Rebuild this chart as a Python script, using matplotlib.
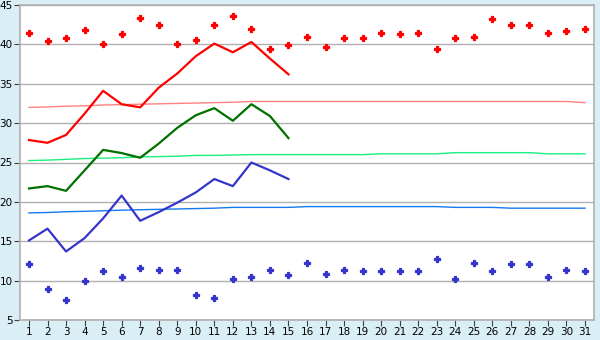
import matplotlib
matplotlib.use('Agg')
import matplotlib.pyplot as plt

# days of the month
days = list(range(1, 32))
days_half = list(range(1, 16))

# daily maximum markers (red) and minimum markers (blue)
high_pts = [41.4, 40.4, 40.8, 41.8, 40.1, 41.3, 43.4, 42.4, 40.1, 40.5,
            42.4, 43.6, 41.9, 39.4, 39.9, 41.0, 39.7, 40.8, 40.8, 41.5,
            41.3, 41.5, 39.4, 40.8, 41.0, 43.2, 42.5, 42.5, 41.5, 41.7, 41.9]
low_pts = [12.05, 9.0, 7.5, 10.0, 11.2, 10.5, 11.55, 11.4, 11.4, 8.2,
           7.85, 10.15, 10.5, 11.3, 10.7, 12.3, 10.8, 11.3, 11.2, 11.2,
           11.2, 11.2, 12.7, 10.15, 12.2, 11.2, 12.05, 12.05, 10.5, 11.4, 11.2]

# current month lines (first 15 days)
red_line = [27.85, 27.5, 28.5, 31.2, 34.1, 32.4, 32.0, 34.5, 36.3, 38.5,
            40.1, 39.0, 40.3, 38.2, 36.2]
green_line = [21.7, 22.0, 21.4, 24.0, 26.6, 26.2, 25.6, 27.4, 29.4, 31.0,
              31.9, 30.3, 32.4, 30.9, 28.1]
blue_line = [15.1, 16.6, 13.7, 15.4, 17.9, 20.8, 17.6, 18.7, 19.9, 21.2,
             22.9, 22.0, 25.0, 24.0, 22.9]

# long term averages
red_avg = [32.0, 32.05, 32.15, 32.2, 32.3, 32.35, 32.4, 32.45, 32.5, 32.55,
           32.6, 32.65, 32.75, 32.75, 32.75, 32.75, 32.75, 32.75, 32.75, 32.75,
           32.75, 32.75, 32.75, 32.75, 32.75, 32.75, 32.75, 32.75, 32.75, 32.75, 32.6]
green_avg = [25.25, 25.3, 25.4, 25.5, 25.55, 25.6, 25.7, 25.75, 25.8, 25.9,
             25.9, 25.95, 26.0, 26.0, 26.0, 26.0, 26.0, 26.0, 26.0, 26.1,
             26.1, 26.1, 26.1, 26.25, 26.25, 26.25, 26.25, 26.25, 26.1, 26.1, 26.1]
blue_avg = [18.6, 18.65, 18.75, 18.8, 18.87, 18.95, 19.0, 19.05, 19.1, 19.15,
            19.2, 19.3, 19.3, 19.3, 19.3, 19.4, 19.4, 19.4, 19.4, 19.4,
            19.4, 19.4, 19.4, 19.3, 19.3, 19.3, 19.2, 19.2, 19.2, 19.2, 19.2]

fig = plt.figure(figsize=(6, 3.4), dpi=100, facecolor='#daeef5')
ax = fig.add_axes([19.7 / 600, 1 - 320 / 340, (594.3 - 19.7) / 600, 315 / 340])
ax.set_facecolor('white')

# average lines
ax.plot(days, red_avg, color='#ff8080', lw=1)
ax.plot(days, green_avg, color='#19f07f', lw=1)
ax.plot(days, blue_avg, color='#1478f0', lw=1)

# current lines
ax.plot(days_half, red_line, color='#ff0000', lw=1.6)
ax.plot(days_half, green_line, color='#007000', lw=1.6)
ax.plot(days_half, blue_line, color='#3535cc', lw=1.6)

# markers
ax.plot(days, high_pts, ls='none', marker='P', ms=5, color='#ff0000', mew=0.9)
ax.plot(days, low_pts, ls='none', marker='P', ms=5, color='#3535cc', mew=0.9)

ax.set_xlim(0.5, 31.5)
ax.set_ylim(5, 45)
ax.set_xticks(days)
ax.set_yticks(range(5, 50, 5))
ax.yaxis.grid(True, color='#b0b0b0', lw=1)
ax.set_axisbelow(True)
for s in ax.spines.values():
    s.set_color('#b0b0b0')
    s.set_linewidth(1.2)
ax.tick_params(colors='#404040', labelcolor='#000000', labelsize=7.5, length=4, pad=1)

fig.savefig('out.png', dpi=100, facecolor=fig.get_facecolor())
